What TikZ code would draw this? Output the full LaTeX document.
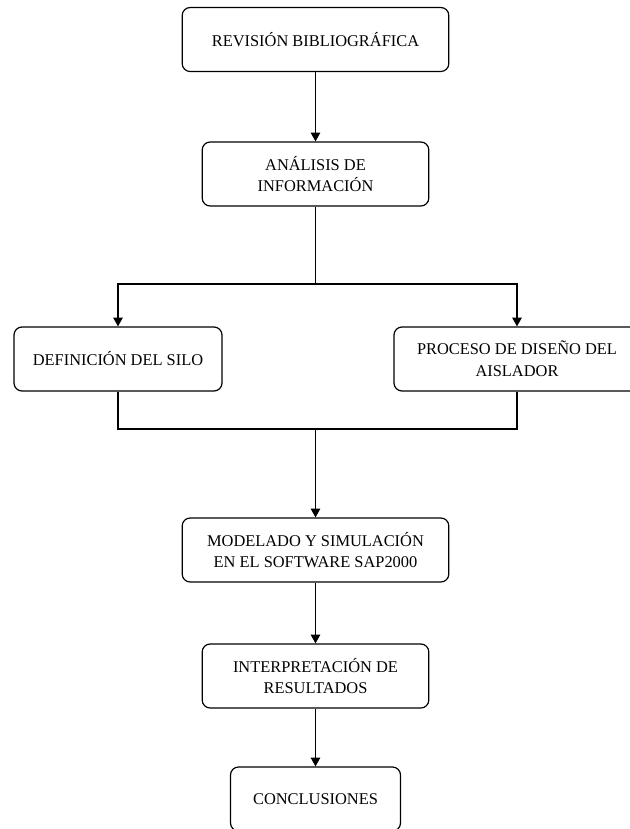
\documentclass[tikz,border=0pt]{standalone}
\usepackage{fontspec}
\setmainfont{Liberation Serif}
\usetikzlibrary{arrows.meta}
\begin{document}
\begin{tikzpicture}[x=0.75pt, y=-0.75pt]
  \useasboundingbox (0, 0) rectangle (630, 829);  % Rand wie im Original.
  \tikzstyle{paso}=[draw, rounded corners=6pt, line width=0.9pt, align=center, minimum height=48pt, inner sep=0pt, font=\fontsize{12.3}{16.3}\selectfont]
  \tikzstyle{flecha}=[draw, line width=0.9pt, -{Triangle[length=6.5pt, width=7pt]}]
  \tikzstyle{linea}=[draw, line width=0.9pt]

  \node[paso, minimum width=200pt] (rev) at (315.5, 39.5) {REVISIÓN BIBLIOGRÁFICA};
  \node[paso, minimum width=170pt] (ana) at (315.5, 174)  {ANÁLISIS DE\\INFORMACIÓN};
  \node[paso, minimum width=156pt] (def) at (118, 359)    {DEFINICIÓN DEL SILO};
  \node[paso, minimum width=184.5pt] (pro) at (517, 359)  {PROCESO DE DISEÑO DEL\\AISLADOR};
  \node[paso, minimum width=200pt] (mod) at (315.5, 550)  {MODELADO Y SIMULACIÓN\\EN EL SOFTWARE SAP2000};
  \node[paso, minimum width=170pt] (int) at (315.5, 676)  {INTERPRETACIÓN DE\\RESULTADOS};
  \node[paso, minimum width=127.5pt] (con) at (315.5, 799) {CONCLUSIONES};

  \coordinate (split) at (315.5, 284);
  \coordinate (join)  at (315.5, 429);

  \path[flecha] (rev.south) -- (ana.north);
  \path[linea]  (ana.south) -- (split);
  \path[flecha] (split) -| (def.north);
  \path[flecha] (split) -| (pro.north);
  \path[linea]  (def.south) |- (join);
  \path[linea]  (pro.south) |- (join);
  \path[flecha] (join) -- (mod.north);
  \path[flecha] (mod.south) -- (int.north);
  \path[flecha] (int.south) -- (con.north);
\end{tikzpicture}
\end{document}
